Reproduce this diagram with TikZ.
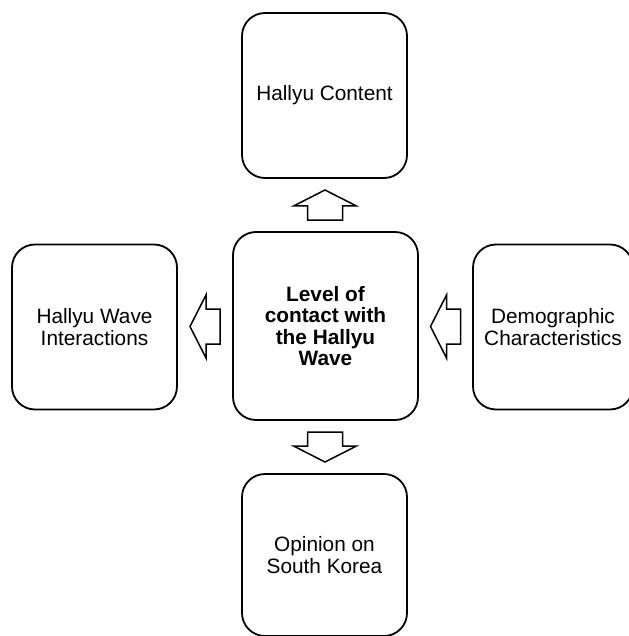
\documentclass[tikz,border=0pt]{standalone}
\usepackage{fontspec}
\setmainfont{Liberation Sans}
\usetikzlibrary{calc}
\tikzset{
  factor/.style={draw, line width=1.8pt, rounded corners=23pt, inner sep=0pt,
    align=center, minimum width=165pt, minimum height=165pt,
    font=\fontsize{20.8}{22.5}\selectfont},
  blockarrow/.pic={
    \draw[line width=1.5pt, line join=miter]
      (-15,-17.5) -- (-1,-17.5) -- (-1,-31.5) -- (15,0)
      -- (-1,31.5) -- (-1,17.5) -- (-15,17.5) -- cycle;
  }
}
\begin{document}
\begin{tikzpicture}[x=1pt, y=-1pt]
      \useasboundingbox (0,0) rectangle (628,636);
      \draw
        (325.5,326) node[factor, minimum width=185pt, minimum height=188pt,
          font=\fontsize{20.8}{21.5}\selectfont\bfseries] (level)
          {Level of\\contact with\\the Hallyu\\Wave}
        (324.5,95.5) node[factor] (content) {Hallyu Content}
        (94.5,327) node[factor] (interact) {Hallyu Wave\\Interactions}
        (553,327) node[factor, minimum width=160pt] (demo)
          {Demographic\\Characteristics}
        (324.5,555) node[factor, minimum height=162pt] (opinion)
          {Opinion on\\South Korea};
      % block arrows between the boxes
      \pic[rotate=90]  at ($(level.north)!0.5!(content.south)$) {blockarrow};
      \pic[rotate=180] at ($(level.west)!0.5!(interact.east)$) {blockarrow};
      \pic[rotate=180] at ($(demo.west)!0.5!(level.east)$) {blockarrow};
      \pic[rotate=-90] at ($(level.south)!0.5!(opinion.north)$) {blockarrow};
    \end{tikzpicture}
\end{document}
